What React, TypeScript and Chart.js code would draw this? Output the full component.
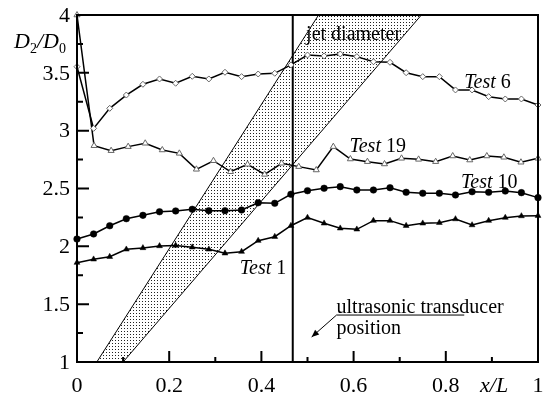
import React, { useEffect, useRef } from "react";
import { Chart, registerables } from "chart.js";

Chart.register(...registerables);

// x positions (x/L) of the measured points
const xs29 = [0, 0.036, 0.071, 0.107, 0.143, 0.179, 0.214, 0.25, 0.286, 0.321, 0.357, 0.393, 0.429, 0.464, 0.5, 0.536, 0.571, 0.607, 0.643, 0.679, 0.714, 0.75, 0.786, 0.821, 0.857, 0.893, 0.929, 0.964, 1];
const xs28 = [0, 0.037, 0.074, 0.111, 0.148, 0.185, 0.222, 0.259, 0.296, 0.333, 0.37, 0.407, 0.444, 0.481, 0.519, 0.556, 0.593, 0.63, 0.667, 0.704, 0.741, 0.778, 0.815, 0.852, 0.889, 0.926, 0.963, 1];

// D2/D0 values
const test6 = [3.553, 3.02, 3.193, 3.308, 3.401, 3.447, 3.41, 3.47, 3.447, 3.505, 3.467, 3.49, 3.496, 3.568, 3.654, 3.646, 3.663, 3.64, 3.596, 3.591, 3.501, 3.467, 3.467, 3.352, 3.352, 3.294, 3.274, 3.274, 3.222];
const test19 = [4.0, 2.87, 2.827, 2.862, 2.891, 2.833, 2.804, 2.666, 2.74, 2.645, 2.709, 2.622, 2.718, 2.689, 2.66, 2.862, 2.755, 2.732, 2.712, 2.761, 2.752, 2.732, 2.781, 2.746, 2.781, 2.77, 2.727, 2.761];
const test10 = [2.063, 2.107, 2.178, 2.239, 2.268, 2.299, 2.306, 2.32, 2.308, 2.308, 2.314, 2.377, 2.372, 2.45, 2.481, 2.502, 2.516, 2.487, 2.487, 2.507, 2.467, 2.459, 2.459, 2.444, 2.472, 2.467, 2.478, 2.464, 2.421];
const test1 = [1.859, 1.888, 1.91, 1.974, 1.986, 2.003, 2.007, 1.992, 1.974, 1.94, 1.954, 2.049, 2.083, 2.178, 2.248, 2.199, 2.156, 2.147, 2.222, 2.222, 2.178, 2.199, 2.204, 2.236, 2.184, 2.222, 2.248, 2.262, 2.265];

// jet diameter band corners (x, y)
const bandX = [0.043, 0.524, 0.747, 0.1, 0.043];
const bandY = [1, 4, 4, 1, 1];

// ultrasonic transducer position
const transducerX = 0.468;

// axis ticks
const xMajor = [0, 0.2, 0.4, 0.6, 0.8, 1];
const xLabels = ["0", "0.2", "0.4", "0.6", "0.8", "1"];
const xMinor = [0.1, 0.3, 0.5, 0.7, 0.9];
const yMajor = [1, 1.5, 2, 2.5, 3, 3.5, 4];
const yLabels = ["1", "1.5", "2", "2.5", "3", "3.5", "4"];
const yMinor = [1.25, 1.75, 2.25, 2.75, 3.25, 3.75];

// series labels: [italic part, upright part, x, y]
const seriesLabels: [string, string, number, number][] = [
  ["Test", " 6", 0.84, 3.369],
  ["Test", " 19", 0.591, 2.816],
  ["Test", " 10", 0.833, 2.504],
  ["Test", " 1", 0.353, 1.761],
];

const SERIF = '"Liberation Serif", "Times New Roman", serif';

function zip(xs: number[], ys: number[]) {
  return ys.map((y, i) => ({ x: xs[i], y }));
}

function makeDots(): CanvasPattern | string {
  const c = document.createElement("canvas");
  c.width = 3;
  c.height = 3;
  const g = c.getContext("2d");
  if (!g) return "#ccc";
  g.fillStyle = "#ffffff";
  g.fillRect(0, 0, 3, 3);
  g.fillStyle = "#222222";
  g.fillRect(1, 1, 1, 1);
  return g.createPattern(c, "repeat") || "#ccc";
}

const decorPlugin = {
  id: "decor",
  afterDatasetsDraw(chart: any) {
    const { ctx, chartArea: a, scales } = chart;
    const sx = scales.x;
    const sy = scales.y;
    const px = (v: number) => sx.getPixelForValue(v);
    const py = (v: number) => sy.getPixelForValue(v);
    ctx.save();
    // frame
    ctx.strokeStyle = "#000";
    ctx.lineWidth = 2;
    ctx.strokeRect(a.left, a.top, a.right - a.left, a.bottom - a.top);
    // ticks (inside)
    ctx.lineWidth = 2;
    ctx.beginPath();
    xMajor.forEach((v) => { ctx.moveTo(px(v), a.bottom); ctx.lineTo(px(v), a.bottom - 11); });
    xMinor.forEach((v) => { ctx.moveTo(px(v), a.bottom); ctx.lineTo(px(v), a.bottom - 5); });
    yMajor.forEach((v) => { ctx.moveTo(a.left, py(v)); ctx.lineTo(a.left + 12, py(v)); });
    yMinor.forEach((v) => { ctx.moveTo(a.left, py(v)); ctx.lineTo(a.left + 6, py(v)); });
    ctx.stroke();

    // tick labels
    ctx.fillStyle = "#000";
    ctx.font = `22px ${SERIF}`;
    ctx.textAlign = "center";
    ctx.textBaseline = "alphabetic";
    xMajor.forEach((v, i) => ctx.fillText(xLabels[i], px(v), a.bottom + 30));
    ctx.textAlign = "right";
    ctx.textBaseline = "middle";
    yMajor.forEach((v, i) => ctx.fillText(yLabels[i], a.left - 7, py(v) + 1));

    // axis titles
    ctx.textAlign = "left";
    ctx.textBaseline = "alphabetic";
    ctx.font = `italic 22px ${SERIF}`;
    ctx.fillText("x/L", 480, a.bottom + 30);
    // D2/D0
    let cx = 14;
    const base = 48;
    ctx.font = `italic 22px ${SERIF}`;
    ctx.fillText("D", cx, base); cx += ctx.measureText("D").width;
    ctx.font = `14px ${SERIF}`;
    ctx.fillText("2", cx, base + 5); cx += ctx.measureText("2").width;
    ctx.font = `italic 22px ${SERIF}`;
    ctx.fillText("/", cx, base); cx += ctx.measureText("/").width;
    ctx.fillText("D", cx, base); cx += ctx.measureText("D").width;
    ctx.font = `14px ${SERIF}`;
    ctx.fillText("0", cx, base + 5);

    // series labels
    seriesLabels.forEach(([it, up, lx, ly]) => {
      let x0 = px(lx);
      const y0 = py(ly);
      ctx.font = `italic 20px ${SERIF}`;
      ctx.fillText(it, x0, y0);
      x0 += ctx.measureText(it).width;
      ctx.font = `20px ${SERIF}`;
      ctx.fillText(up, x0, y0);
    });

    // band label
    ctx.font = `20px ${SERIF}`;
    ctx.fillText("jet diameter", px(0.497), py(3.784));

    // transducer note
    ctx.fillText("ultrasonic transducer", px(0.563), py(1.424));
    ctx.fillText("position", px(0.563), py(1.242));
    ctx.lineWidth = 1;
    ctx.beginPath();
    ctx.moveTo(px(0.84), py(1.406));
    ctx.lineTo(px(0.563), py(1.406));
    const ax = px(0.509);
    const ay = py(1.216);
    ctx.lineTo(ax, ay);
    ctx.stroke();
    // arrowhead
    const ang = Math.atan2(ay - py(1.406), ax - px(0.563));
    const L = 8;
    ctx.beginPath();
    ctx.moveTo(ax, ay);
    ctx.lineTo(ax - L * Math.cos(ang - 0.4), ay - L * Math.sin(ang - 0.4));
    ctx.lineTo(ax - L * Math.cos(ang + 0.4), ay - L * Math.sin(ang + 0.4));
    ctx.closePath();
    ctx.fill();
    ctx.restore();
  },
};

export default function App() {
  const ref = useRef<HTMLCanvasElement | null>(null);
  useEffect(() => {
    if (!ref.current) return;
    const dots = makeDots();
    const lineBase = {
      borderColor: "#000",
      borderWidth: 1.5,
      fill: false,
      tension: 0,
      clip: false as any,
    };
    const chart = new Chart(ref.current, {
      type: "line",
      data: {
        datasets: [
          {
            ...lineBase,
            label: "Test 6",
            data: zip(xs29, test6),
            pointStyle: "rectRot",
            pointRadius: 3,
            pointBorderColor: "#666",
            pointBackgroundColor: "#fff",
            pointBorderWidth: 1,
            order: 1,
          },
          {
            ...lineBase,
            label: "Test 19",
            data: zip(xs28, test19),
            pointStyle: "triangle",
            pointRadius: 3.5,
            pointBorderColor: "#666",
            pointBackgroundColor: "#fff",
            pointBorderWidth: 1,
            order: 1,
          },
          {
            ...lineBase,
            label: "Test 10",
            data: zip(xs29, test10),
            pointStyle: "circle",
            pointRadius: 3.3,
            pointBorderWidth: 0.5,
            pointBorderColor: "#000",
            pointBackgroundColor: "#000",
            order: 1,
          },
          {
            ...lineBase,
            label: "Test 1",
            data: zip(xs29, test1),
            pointStyle: "triangle",
            pointRadius: 3.4,
            pointBorderWidth: 0.5,
            pointBorderColor: "#000",
            pointBackgroundColor: "#000",
            order: 1,
          },
          {
            label: "transducer",
            data: [{ x: transducerX, y: 1 }, { x: transducerX, y: 4 }],
            borderColor: "#000",
            borderWidth: 2,
            pointRadius: 0,
            fill: false,
            order: 5,
          },
          {
            label: "jet diameter",
            data: zip(bandX, bandY),
            borderColor: "#000",
            borderWidth: 1,
            backgroundColor: dots as any,
            pointRadius: 0,
            fill: "shape",
            tension: 0,
            order: 10,
          },
        ],
      },
      options: {
        animation: false,
        responsive: false,
        layout: { padding: { left: 77, right: 4, top: 15, bottom: 36 } },
        plugins: { legend: { display: false }, tooltip: { enabled: false } },
        events: [],
        scales: {
          x: { type: "linear", min: 0, max: 1, display: false },
          y: { type: "linear", min: 1, max: 4, display: false },
        },
      },
      plugins: [decorPlugin],
    });
    return () => chart.destroy();
  }, []);
  return (
    <div style={{ position: "absolute", left: 0, top: 0, width: 543, height: 398, background: "#fff" }}>
      <canvas ref={ref} width={543} height={398} style={{ display: "block" }} />
    </div>
  );
}
